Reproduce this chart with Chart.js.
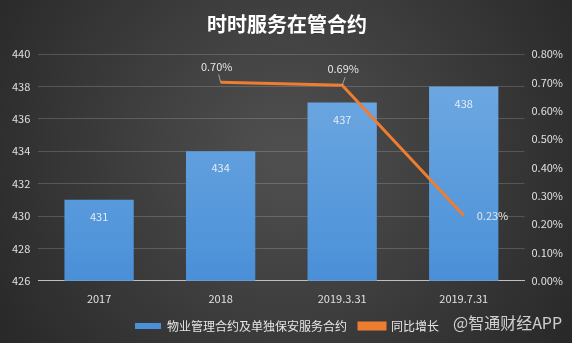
<!DOCTYPE html>
<html lang="zh-CN">
<head>
  <meta charset="UTF-8" />
  <title>时时服务在管合约</title>
  <script src="https://cdn.jsdelivr.net/npm/chart.js"></script>
  <style>
    * { margin: 0; padding: 0; box-sizing: border-box; }
    body { width: 572px; height: 343px; overflow: hidden; background: #333; }
    #wrap { width: 572px; height: 343px; position: relative; }
  </style>
</head>
<body>
  <div id="wrap"><canvas id="chart" width="572" height="343"></canvas></div>
  <script>
    const categories = ['2017', '2018', '2019.3.31', '2019.7.31'];
    const contracts = [431, 434, 437, 438];
    const growth = [null, 0.70, 0.69, 0.23];
    const leftTicks = { min: 426, max: 440, step: 2 };
    const rightTicks = { min: 0, max: 0.8, step: 0.1 };

    const FONT = '"Noto Sans CJK SC", "Noto Sans", sans-serif';

    const bgPlugin = {
      id: 'bg',
      beforeDraw(chart) {
        const { ctx, width, height } = chart;
        const g = ctx.createRadialGradient(width / 2, height * 0.45, 20, width / 2, height * 0.45, 360);
        g.addColorStop(0, '#4e4e4e');
        g.addColorStop(1, '#262626');
        ctx.save();
        ctx.fillStyle = g;
        ctx.fillRect(0, 0, width, height);
        ctx.restore();
      },
      afterDraw(chart) {
        const { ctx } = chart;
        ctx.save();
        ctx.font = '16px ' + FONT;
        ctx.fillStyle = 'rgba(235,235,235,0.85)';
        ctx.textAlign = 'left';
        ctx.textBaseline = 'middle';
        ctx.fillText('@智通财经APP', 453, 323);
        ctx.restore();
      }
    };

    const labelPlugin = {
      id: 'labels',
      afterDatasetsDraw(chart) {
        const { ctx } = chart;
        ctx.save();
        ctx.font = '11px ' + FONT;
        ctx.textAlign = 'center';
        ctx.textBaseline = 'middle';
        // bar labels inside top
        chart.getDatasetMeta(0).data.forEach((bar, i) => {
          ctx.fillStyle = '#e3ecf6';
          ctx.fillText(String(contracts[i]), bar.x, bar.y + 17);
        });
        // line labels
        const pts = chart.getDatasetMeta(1).data;
        pts.forEach((p, i) => {
          if (growth[i] == null) return;
          const txt = growth[i].toFixed(2) + '%';
          ctx.fillStyle = '#e6e6e6';
          ctx.strokeStyle = 'rgba(200,200,200,0.7)';
          ctx.lineWidth = 1;
          if (i === growth.length - 1) {
            ctx.textAlign = 'left';
            ctx.fillText(txt, p.x + 13, p.y);
          } else {
            ctx.textAlign = 'center';
            const lx = i === 1 ? p.x - 4 : p.x + 1;
            ctx.fillText(txt, lx, p.y - 16);
            ctx.beginPath();
            ctx.moveTo(p.x - (i === 1 ? 2 : -3), p.y - 8);
            ctx.lineTo(p.x, p.y);
            ctx.stroke();
          }
        });
        ctx.restore();
      }
    };

    const ctx = document.getElementById('chart').getContext('2d');

    const barGradient = (context) => {
      const { chart } = context;
      const area = chart.chartArea;
      if (!area) return '#5b9bd5';
      const g = chart.ctx.createLinearGradient(0, area.top, 0, area.bottom);
      g.addColorStop(0, '#72abe2');
      g.addColorStop(1, '#4a90d8');
      return g;
    };

    new Chart(ctx, {
      data: {
        labels: categories,
        datasets: [
          {
            type: 'bar',
            label: '物业管理合约及单独保安服务合约',
            data: contracts,
            backgroundColor: barGradient,
            borderWidth: 0,
            yAxisID: 'y',
            categoryPercentage: 1,
            barPercentage: 0.57,
            order: 2
          },
          {
            type: 'line',
            label: '同比增长',
            data: growth,
            borderColor: '#ed7d31',
            backgroundColor: '#ed7d31',
            borderWidth: 3,
            pointRadius: 0,
            tension: 0,
            yAxisID: 'y1',
            order: 1
          }
        ]
      },
      options: {
        responsive: false,
        animation: false,
        layout: { padding: { left: 4, right: 2, top: 2, bottom: 1 } },
        plugins: {
          title: {
            display: true,
            text: '时时服务在管合约',
            color: '#ffffff',
            font: { family: FONT, size: 20, weight: 'bold' },
            padding: { top: 10, bottom: 18 }
          },
          legend: {
            position: 'bottom',
            align: 'center',
            labels: {
              color: '#e6e6e6',
              font: { family: FONT, size: 12 },
              boxWidth: 26,
              boxHeight: 6,
              padding: 12,
              sort: (a, b) => a.datasetIndex - b.datasetIndex
            }
          },
          tooltip: { enabled: false }
        },
        scales: {
          x: {
            grid: { display: false },
            border: { color: '#bfbfbf' },
            ticks: { color: '#e0e0e0', font: { family: FONT, size: 11 }, padding: 3 }
          },
          y: {
            position: 'left',
            min: leftTicks.min,
            max: leftTicks.max,
            ticks: { stepSize: leftTicks.step, color: '#e0e0e0', font: { family: FONT, size: 11 }, padding: 8 },
            grid: { color: 'rgba(255,255,255,0.17)', drawTicks: false },
            border: { display: false }
          },
          y1: {
            position: 'right',
            min: rightTicks.min,
            max: rightTicks.max,
            ticks: {
              stepSize: rightTicks.step,
              color: '#e0e0e0',
              font: { family: FONT, size: 11 },
              padding: 7,
              callback: (v) => v.toFixed(2) + '%'
            },
            grid: { display: false, drawTicks: false },
            border: { display: false }
          }
        }
      },
      plugins: [bgPlugin, labelPlugin]
    });
  </script>
</body>
</html>
